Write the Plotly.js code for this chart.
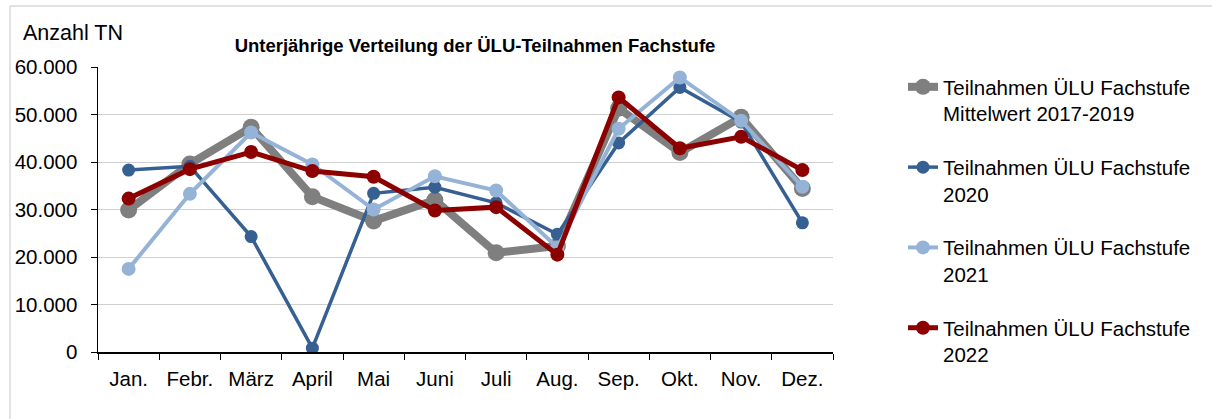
<!DOCTYPE html>
<html>
<head>
<meta charset="utf-8">
<script src="https://cdn.plot.ly/plotly-3.0.1.min.js"></script>
<style>html,body{margin:0;padding:0;background:#fff;} #chart{width:1212px;height:419px;}</style>
</head>
<body>
<div id="chart"></div>
<script>
const months = ["Jan.", "Febr.", "März", "April", "Mai", "Juni", "Juli", "Aug.", "Sep.", "Okt.", "Nov.", "Dez."];
const seriesNames = [
  "Teilnahmen ÜLU Fachstufe<br>Mittelwert 2017-2019",
  "Teilnahmen ÜLU Fachstufe<br>2020",
  "Teilnahmen ÜLU Fachstufe<br>2021",
  "Teilnahmen ÜLU Fachstufe<br>2022"
];
const mittelwert2017_2019 = [29900, 39600, 47300, 32700, 27600, 32000, 20900, 22300, 51300, 42000, 49400, 34400];
const tn2020 = [38300, 39100, 24300, 800, 33400, 34700, 31400, 24800, 44000, 55700, 48400, 27200];
const tn2021 = [17500, 33300, 46200, 39500, 30000, 37000, 34000, 22000, 47000, 57800, 48700, 34800];
const tn2022 = [32300, 38500, 42100, 38100, 36900, 29800, 30500, 20500, 53600, 42900, 45300, 38300];
const yTicks = [0, 10000, 20000, 30000, 40000, 50000, 60000];

const styles = [
  {color: "#7f7f7f", width: 8, size: 17},
  {color: "#366092", width: 3.5, size: 13},
  {color: "#95b3d7", width: 4, size: 14},
  {color: "#8c0000", width: 5, size: 14}
];
const values = [mittelwert2017_2019, tn2020, tn2021, tn2022];

const traces = values.map((v, i) => ({
  type: "scatter",
  mode: "lines+markers",
  x: months,
  y: v,
  name: seriesNames[i],
  legendgroup: "g" + i,
  line: {color: styles[i].color, width: styles[i].width},
  marker: {color: styles[i].color, size: styles[i].size},
  hoverinfo: "x+y"
}));

const L = 98, T = 67, W = 1212, H = 419, R = 379, B = 67;
const pw = W - L - R, ph = H - T - B;
const px = x => (x - L) / pw;
const py = y => (H - B - y) / ph;

const layout = {
  width: W, height: H,
  margin: {l: L, r: R, t: T, b: B},
  paper_bgcolor: "#ffffff",
  plot_bgcolor: "#ffffff",
  separators: ",.",
  font: {family: "Liberation Sans, Arial, sans-serif", color: "#000000", size: 20.5},
  title: {
    text: "<b>Unterjährige Verteilung der ÜLU-Teilnahmen Fachstufe</b>",
    font: {size: 18.5, family: "Liberation Sans, Arial, sans-serif", color: "#000"},
    xref: "container", yref: "container",
    x: 475 / W, xanchor: "center",
    y: 1 - 46 / H, yanchor: "middle"
  },
  xaxis: {
    type: "category",
    range: [-0.5, 11.5],
    tickson: "boundaries",
    ticks: "outside", ticklen: 6, tickcolor: "#000",
    showline: true, linecolor: "#000", linewidth: 1.5,
    showgrid: false, zeroline: false,
    tickfont: {size: 20.5},
    ticklabelstandoff: 8,
    fixedrange: true
  },
  yaxis: {
    range: [0, 60000],
    tickvals: yTicks,
    tickformat: ",d",
    ticks: "outside", ticklen: 6, tickcolor: "#000",
    showline: true, linecolor: "#000", linewidth: 1.5,
    showgrid: true, gridcolor: "#d0d0d0", gridwidth: 1,
    zeroline: false,
    tickfont: {size: 20.5},
    ticklabelstandoff: 9,
    fixedrange: true
  },
  showlegend: true,
  legend: {
    x: px(903), xanchor: "left",
    y: py(67), yanchor: "top",
    font: {size: 20.5},
    valign: "top",
    tracegroupgap: 24,
    maxheight: 419,
    bgcolor: "rgba(0,0,0,0)"
  },
  annotations: [{
    text: "Anzahl TN",
    xref: "paper", yref: "paper",
    x: px(21), xanchor: "left",
    y: py(33), yanchor: "middle",
    showarrow: false,
    font: {size: 21.5}
  }],
  shapes: [
    {type: "line", xref: "paper", yref: "paper", x0: px(10), x1: px(1215), y0: py(6), y1: py(6), line: {color: "#d9d9d9", width: 1.5}},
    {type: "line", xref: "paper", yref: "paper", x0: px(10), x1: px(10), y0: py(6), y1: py(425), line: {color: "#d9d9d9", width: 1.5}}
  ]
};

Plotly.newPlot("chart", traces, layout, {displayModeBar: false, staticPlot: true});
</script>
</body>
</html>
